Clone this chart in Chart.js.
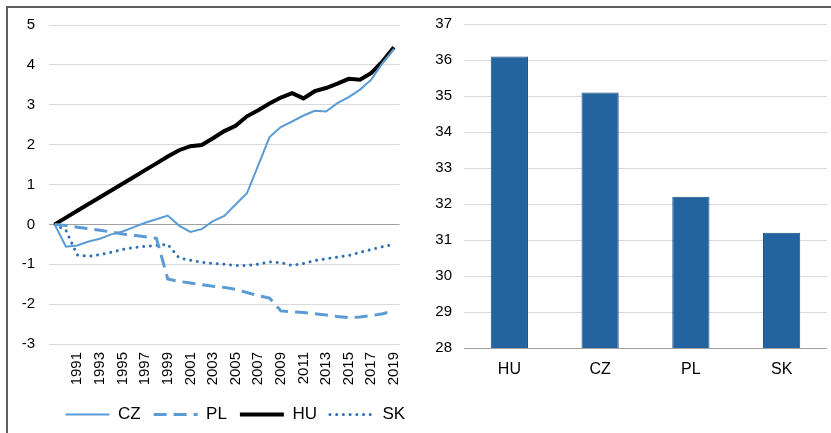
<!DOCTYPE html>
<html>
<head>
<meta charset="utf-8">
<script src="https://cdn.jsdelivr.net/npm/chart.js@4"></script>
<style>
  html, body { margin: 0; padding: 0; background: #fff; }
  body { width: 831px; height: 433px; position: relative; overflow: hidden; }
  #frame { position: absolute; left: 6px; top: 6px; width: 830px; height: 430px;
           border-top: 2px solid #5f5f5f; border-left: 2px solid #5f5f5f; }
  #c1 { position: absolute; left: 0; top: 0; }
  #c2 { position: absolute; left: 420px; top: 0; }
</style>
</head>
<body>
<div id="frame"></div>
<canvas id="c1" width="420" height="433"></canvas>
<canvas id="c2" width="411" height="433"></canvas>
<script>
// ---- Left chart data (1989 = 0) ----
const years = ["1989","1990","1991","1992","1993","1994","1995","1996","1997","1998","1999",
  "2000","2001","2002","2003","2004","2005","2006","2007","2008","2009",
  "2010","2011","2012","2013","2014","2015","2016","2017","2018","2019"];
const czValues = [0, -0.56, -0.53, -0.43, -0.36, -0.25, -0.18, -0.07, 0.04, 0.13, 0.22,
  -0.03, -0.19, -0.12, 0.08, 0.21, 0.50, 0.78, 1.48, 2.19, 2.44,
  2.58, 2.73, 2.85, 2.83, 3.04, 3.19, 3.38, 3.63, 4.05, 4.40];
const plValues = [0, -0.03, -0.07, -0.11, -0.15, -0.19, -0.24, -0.27, -0.31, -0.35, -1.37,
  -1.43, -1.47, -1.51, -1.55, -1.58, -1.63, -1.71, -1.79, -1.85, -2.17,
  -2.19, -2.21, -2.24, -2.27, -2.31, -2.34, -2.32, -2.29, -2.24, -2.17];
const huValues = [0, 0.17, 0.34, 0.51, 0.68, 0.85, 1.02, 1.19, 1.36, 1.53, 1.70,
  1.86, 1.96, 1.99, 2.16, 2.34, 2.47, 2.71, 2.86, 3.03, 3.18,
  3.29, 3.16, 3.34, 3.42, 3.53, 3.65, 3.63, 3.80, 4.09, 4.44];
const skValues = [0, -0.15, -0.77, -0.80, -0.76, -0.70, -0.63, -0.58, -0.55, -0.53, -0.50,
  -0.84, -0.90, -0.95, -0.98, -1.00, -1.03, -1.03, -1.00, -0.94, -0.96,
  -1.03, -0.98, -0.91, -0.86, -0.82, -0.78, -0.70, -0.63, -0.56, -0.50];

// ---- Right chart data ----
const barCategories = ["HU", "CZ", "PL", "SK"];
const barValues = [36.1, 35.1, 32.2, 31.2];

const FONT = "'Liberation Sans', Arial, sans-serif";

// move the legend to the right so it sits under the plot as in the original
const legendShift = {
  id: 'legendShift',
  afterLayout(chart) {
    const lg = chart.legend;
    if (!lg) return;
    const ca = chart.chartArea;
    const shift = ((ca.left + ca.right) - (lg.left + lg.right)) / 2 + 11;
    lg.left += shift; lg.right += shift;
  }
};

new Chart(document.getElementById('c1'), {
  type: 'line',
  data: {
    labels: years,
    datasets: [
      { label: 'CZ', data: czValues, borderColor: '#5b9bd5', borderWidth: 2, pointRadius: 0, tension: 0 },
      { label: 'PL', data: plValues, borderColor: '#5b9bd5', borderWidth: 3, borderDash: [13, 7], pointRadius: 0, tension: 0 },
      { label: 'HU', data: huValues, borderColor: '#000000', borderWidth: 4, pointRadius: 0, tension: 0 },
      { label: 'SK', data: skValues, borderColor: '#2e70b5', borderWidth: 3, borderDash: [0.01, 6.7], borderCapStyle: 'round', pointRadius: 0, tension: 0 }
    ]
  },
  plugins: [legendShift],
  options: {
    responsive: false,
    animation: false,
    devicePixelRatio: 1,
    layout: { padding: { top: 25, right: 4, left: 0, bottom: 0 } },
    plugins: {
      tooltip: { enabled: false },
      legend: {
        position: 'bottom',
        labels: {
          usePointStyle: true,
          pointStyleWidth: 44,
          padding: 13,
          color: '#000',
          font: { family: FONT, size: 17 },
          generateLabels: (chart) => chart.data.datasets.map((ds, i) => ({
            text: ds.label,
            fillStyle: ds.borderColor,
            strokeStyle: ds.borderColor,
            fontColor: '#000',
            lineWidth: ds.borderWidth,
            lineDash: ds.borderDash || [],
            lineCap: ds.borderCapStyle || 'butt',
            pointStyle: 'line',
            hidden: false,
            datasetIndex: i
          }))
        }
      }
    },
    scales: {
      x: {
        offset: true,
        grid: { display: false, drawTicks: false },
        border: { display: false },
        afterFit: (s) => { s.height = 49; },
        ticks: {
          autoSkip: false,
          maxRotation: 90,
          minRotation: 90,
          padding: 8,
          color: '#000',
          font: { family: FONT, size: 15 },
          callback: function (v, i) { return (i > 0 && i % 2 === 0) ? years[i] : ''; }
        }
      },
      y: {
        min: -3, max: 5,
        afterFit: (s) => { s.width = 49; },
        border: { display: false },
        grid: {
          drawTicks: false,
          color: (c) => c.tick && c.tick.value === 0 ? '#a0a0a0' : '#d9d9d9',
          lineWidth: 1
        },
        ticks: { stepSize: 1, padding: 14, color: '#000', font: { family: FONT, size: 15 } }
      }
    }
  }
});

new Chart(document.getElementById('c2'), {
  type: 'bar',
  data: {
    labels: barCategories,
    datasets: [{
      data: barValues,
      backgroundColor: '#2364a0',
      borderColor: '#1d4f7e',
      borderWidth: 1,
      barPercentage: 0.41,
      categoryPercentage: 1
    }]
  },
  options: {
    responsive: false,
    animation: false,
    devicePixelRatio: 1,
    layout: { padding: { top: 24, right: 4, left: 0, bottom: 0 } },
    plugins: { legend: { display: false }, tooltip: { enabled: false } },
    scales: {
      x: {
        grid: { display: false, drawTicks: false },
        border: { display: false },
        afterFit: (s) => { s.height = 85; },
        ticks: { padding: 12, color: '#000', font: { family: FONT, size: 16 } }
      },
      y: {
        min: 28, max: 37,
        afterFit: (s) => { s.width = 44; },
        border: { display: false },
        grid: {
          drawTicks: false,
          color: (c) => c.tick && c.tick.value === 28 ? '#a0a0a0' : '#d9d9d9',
          lineWidth: 1
        },
        ticks: { stepSize: 1, padding: 12, color: '#000', font: { family: FONT, size: 15 } }
      }
    }
  }
});
</script>
</body>
</html>
